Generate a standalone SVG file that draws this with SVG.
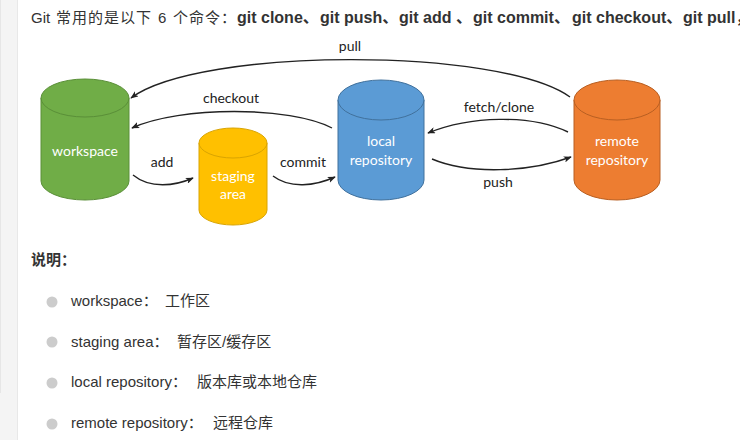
<svg xmlns="http://www.w3.org/2000/svg" width="740" height="440" viewBox="0 0 740 440">
<defs>
<style>
.page{font-family:"Liberation Sans","Noto Sans CJK SC",sans-serif;fill:#333;}
.reg{font-size:15px;}
.bold{font-size:16px;font-weight:bold;}
.cyl-text{font-family:Lato,"Open Sans",sans-serif;font-size:14px;fill:#fff;text-anchor:middle;}
.lbl{font-family:Lato,"Open Sans",sans-serif;font-size:14px;fill:#222;text-anchor:middle;}
.conn{fill:none;stroke:#222;stroke-width:1.4;marker-end:url(#ah);}
.bullet{fill:#ccc;}
</style>
<marker id="ah" viewBox="0 0 10 8" refX="9" refY="4" markerWidth="8" markerHeight="6.4" markerUnits="userSpaceOnUse" orient="auto">
<path d="M0,0 L10,4 L0,8 L2.5,4 Z" fill="#222"/>
</marker>
</defs>
<rect width="740" height="440" fill="#fff"/>
<rect x="0" y="0" width="17" height="440" fill="#f4f4f4"/>
<line x1="17.5" y1="0" x2="17.5" y2="440" stroke="#e8e8e8"/>
<line x1="0.5" y1="0" x2="0.5" y2="393" stroke="#e6e6e6"/>

<g id="header" class="page">
<text class="reg" x="31" y="23">Git</text>
<text class="reg" x="56" y="23" letter-spacing="1">常用的是以下</text>
<text class="reg" x="158" y="23">6</text>
<text class="reg" x="173" y="23" letter-spacing="1">个命令：</text>
<text class="bold" x="237" y="23">git clone、</text>
<text class="bold" x="320" y="23">git push、</text>
<text class="bold" x="399" y="23">git add 、</text>
<text class="bold" x="473" y="23">git commit、</text>
<text class="bold" x="572" y="23">git checkout、</text>
<text class="bold" x="683" y="23">git pull，</text>
</g>

<g id="workspace">
<path d="M41,98 V181 A44,19 0 0 0 129,181 V98 Z" fill="#70ad47" stroke="#5a8f38" stroke-width="1"/>
<ellipse cx="85" cy="98" rx="44" ry="19" fill="#70ad47" stroke="#5a8f38" stroke-width="1"/>
<text class="cyl-text" x="85" y="156">workspace</text>
</g>

<g id="staging">
<path d="M199,143 V210 A34,15 0 0 0 267,210 V143 Z" fill="#ffc000" stroke="#d9a400" stroke-width="1"/>
<ellipse cx="233" cy="143" rx="34" ry="15" fill="#ffc000" stroke="#d9a400" stroke-width="1"/>
<text class="cyl-text" x="233" y="181">staging</text>
<text class="cyl-text" x="233" y="199">area</text>
</g>

<g id="local">
<path d="M338,100 V180 A43,20 0 0 0 424,180 V100 Z" fill="#5b9bd5" stroke="#41719c" stroke-width="1"/>
<ellipse cx="381" cy="100" rx="43" ry="20" fill="#5b9bd5" stroke="#41719c" stroke-width="1"/>
<text class="cyl-text" x="381" y="146">local</text>
<text class="cyl-text" x="381" y="165">repository</text>
</g>

<g id="remote">
<path d="M574,100 V180 A43,20 0 0 0 660,180 V100 Z" fill="#ed7d31" stroke="#b85f22" stroke-width="1"/>
<ellipse cx="617" cy="100" rx="43" ry="20" fill="#ed7d31" stroke="#b85f22" stroke-width="1"/>
<text class="cyl-text" x="617" y="146">remote</text>
<text class="cyl-text" x="617" y="165">repository</text>
</g>

<g id="connectors">
<path class="conn" d="M570,97 C500,47 200,47 131,98"/>
<path class="conn" d="M332,128 C290,106 180,106 132,128"/>
<path class="conn" d="M133,175 C150,189 175,186 193,178"/>
<path class="conn" d="M273,176 C290,189 315,186 335,177"/>
<path class="conn" d="M568,132 C530,114 470,116 428,133"/>
<path class="conn" d="M432,159 C470,175 530,172 571,157"/>
<text class="lbl" x="350" y="51">pull</text>
<text class="lbl" x="231" y="103">checkout</text>
<text class="lbl" x="162" y="167">add</text>
<text class="lbl" x="303" y="167">commit</text>
<text class="lbl" x="499" y="112">fetch/clone</text>
<text class="lbl" x="498" y="187">push</text>
</g>

<g id="notes" class="page">
<text x="31" y="265" style="font-size:15px;font-weight:bold;">说明：</text>
<circle class="bullet" cx="52" cy="302" r="5.5"/>
<circle class="bullet" cx="52" cy="342" r="5.5"/>
<circle class="bullet" cx="52" cy="383" r="5.5"/>
<circle class="bullet" cx="52" cy="424" r="5.5"/>
<text class="reg" x="71" y="306">workspace：<tspan x="165">工作区</tspan></text>
<text class="reg" x="71" y="347">staging area：<tspan x="177">暂存区/缓存区</tspan></text>
<text class="reg" x="71" y="387">local repository：<tspan x="197">版本库或本地仓库</tspan></text>
<text class="reg" x="71" y="428">remote repository：<tspan x="213">远程仓库</tspan></text>
</g>
</svg>
